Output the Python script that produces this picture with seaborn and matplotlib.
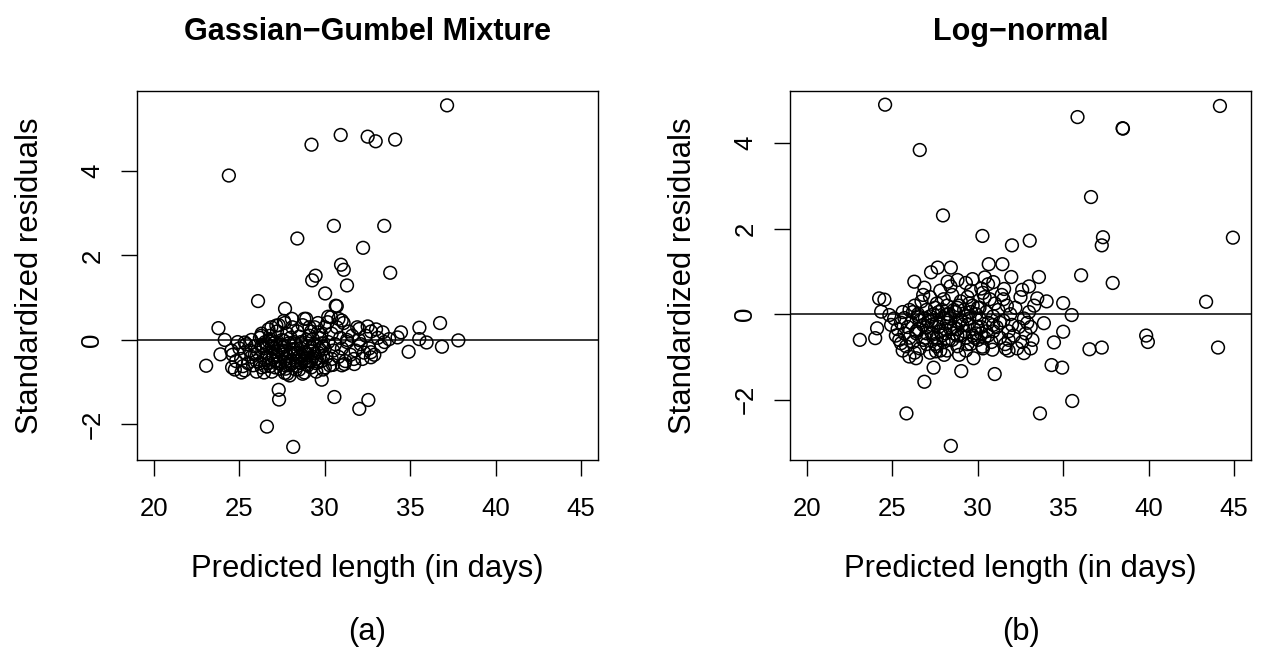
import matplotlib
matplotlib.use("Agg")
import matplotlib.pyplot as plt
import seaborn as sns
import pandas as pd

# ---------------- Panel (a): Gassian-Gumbel Mixture ----------------
a_out_x = [37.16, 30.93, 32.51, 32.98, 34.12, 29.22, 24.38, 30.53, 33.48, 28.39,
           32.24, 30.95, 31.11, 33.83, 29.46, 29.26, 31.30, 30.02, 26.09, 30.64,
           30.70, 27.67, 36.75, 35.54, 23.77, 37.82, 24.14, 23.05, 23.89, 29.82,
           27.30, 27.32, 30.56, 32.55, 32.02, 26.61, 28.15, 36.86, 35.96, 34.91,
           34.46, 35.53, 33.39, 32.51, 32.02, 34.26, 33.77, 32.70, 32.70, 31.73,
           31.15, 30.47, 28.81, 27.94, 27.65, 26.44, 25.12, 24.73, 24.57, 24.53,
           25.31, 26.28, 26.87, 27.16, 27.65, 28.07, 28.91, 29.10, 30.17, 30.37,
           30.99, 29.60]
a_out_y = [5.55, 4.85, 4.81, 4.70, 4.74, 4.62, 3.89, 2.70, 2.70, 2.40,
           2.18, 1.78, 1.66, 1.59, 1.52, 1.41, 1.29, 1.10, 0.92, 0.81,
           0.80, 0.74, 0.40, 0.29, 0.28, -0.01, 0.00, -0.61, -0.34, -0.94,
           -1.18, -1.41, -1.35, -1.42, -1.63, -2.05, -2.53, -0.16, -0.06, -0.28,
           0.18, 0.02, 0.18, 0.32, 0.26, 0.06, 0.02, -0.29, -0.41, -0.57,
           -0.57, -0.59, -0.77, -0.84, -0.78, -0.77, -0.77, -0.70, -0.65, -0.25,
           -0.06, 0.10, 0.30, 0.34, 0.40, 0.50, 0.50, 0.30, 0.42, 0.54,
           0.46, 0.18]

a_core_x = [24.6, 24.8, 25.0, 25.1, 25.2, 25.3, 25.4, 25.5, 24.9, 25.3,
            25.6, 25.7, 25.8, 25.9, 26.0, 26.1, 26.2, 26.3, 26.4, 26.5,
            25.7, 26.0, 26.3, 26.5, 25.9,
            26.6, 26.7, 26.8, 26.9, 27.0, 27.1, 27.2, 27.3, 27.4, 27.5,
            26.7, 26.9, 27.1, 27.3, 27.5, 27.0, 26.6,
            27.6, 27.7, 27.8, 27.9, 28.0, 28.1, 28.2, 28.3, 28.4, 28.5,
            27.6, 27.8, 28.0, 28.2, 28.4, 28.5, 27.7, 28.1, 28.3,
            28.6, 28.7, 28.8, 28.9, 29.0, 29.1, 29.2, 29.3, 29.4, 29.5,
            28.6, 28.8, 29.0, 29.2, 29.4, 28.7, 29.1, 28.9,
            29.6, 29.7, 29.8, 29.9, 30.0, 30.1, 30.2, 30.3, 30.4, 30.5,
            29.6, 29.9, 30.2, 30.4, 30.0,
            30.6, 30.7, 30.8, 30.9, 31.0, 31.1, 31.2, 31.3, 31.4, 31.5,
            30.8, 31.0, 31.3,
            31.6, 31.8, 31.9, 32.1, 32.2, 32.4, 32.6, 32.7, 32.9, 33.1,
            33.3, 32.0, 32.3, 31.7, 33.0, 33.5]
a_core_y = [-0.35, -0.50, -0.20, -0.45, -0.62, -0.30, -0.10, -0.55, -0.05, -0.72,
            -0.25, -0.40, -0.60, -0.15, -0.50, -0.30, 0.05, -0.65, -0.20, -0.45,
            0.00, -0.75, 0.15, -0.05, -0.35,
            -0.30, -0.55, 0.10, -0.15, -0.40, -0.65, 0.20, -0.25, -0.50, 0.00,
            0.25, -0.75, -0.05, 0.35, -0.35, -0.20, -0.10,
            -0.15, -0.45, 0.15, -0.60, -0.30, 0.30, -0.05, -0.50, -0.20, -0.70,
            0.45, -0.80, 0.05, -0.35, 0.20, -0.40, -0.25, -0.55, -0.10,
            -0.20, 0.35, -0.45, 0.00, -0.60, -0.25, 0.20, -0.40, -0.10, -0.75,
            -0.55, 0.50, -0.35, -0.50, 0.30, -0.80, 0.10, -0.30,
            -0.30, 0.05, -0.50, -0.15, 0.30, -0.40, -0.05, -0.60, 0.15, -0.25,
            0.40, -0.70, 0.55, -0.45, -0.20,
            -0.10, 0.30, -0.40, 0.05, -0.20, 0.40, -0.50, -0.05, 0.20, -0.35,
            0.50, -0.60, 0.00,
            0.10, -0.25, 0.30, -0.10, -0.45, 0.10, -0.20, 0.20, -0.35, 0.05,
            -0.15, 0.00, -0.30, -0.45, 0.25, -0.05]

a_dense_x = [26.2, 26.4, 26.6, 26.8, 27.0, 27.2, 27.4, 27.6, 27.8, 28.0,
             28.2, 28.4, 28.6, 28.8, 29.0, 29.2, 29.4, 29.6, 29.8, 30.0,
             26.3, 26.5, 26.7, 26.9, 27.1, 27.3, 27.5, 27.7, 27.9, 28.1,
             28.3, 28.5, 28.7, 28.9, 29.1, 29.3, 29.5, 29.7, 29.9,
             26.8, 27.4, 28.0, 28.6, 29.2, 29.8, 27.1, 27.7, 28.3, 28.9, 29.5]
a_dense_y = [-0.55, -0.15, -0.42, -0.62, -0.08, -0.35, -0.68, -0.02, -0.38, -0.58,
             -0.22, -0.62, -0.05, -0.28, -0.15, -0.65, -0.32, -0.52, 0.12, -0.65,
             -0.12, -0.62, -0.02, -0.45, -0.28, -0.55, -0.18, -0.60, -0.08, -0.22,
             -0.70, 0.08, -0.38, -0.58, -0.48, 0.02, -0.45, -0.22, -0.38,
             0.02, -0.12, -0.48, -0.10, -0.18, -0.08, -0.50, -0.68, -0.30, -0.50, -0.55]

# ---------------- Panel (b): Log-normal ----------------
b_out_x = [24.57, 44.18, 35.84, 38.48, 38.50, 26.60, 36.63, 27.96, 30.27, 33.04,
           32.00, 37.33, 37.26, 44.94, 36.05, 37.90, 43.37, 39.86, 39.96, 44.07,
           36.54, 37.26, 35.53, 33.64, 25.82, 28.42, 23.09, 23.99, 24.10, 24.22,
           24.53, 24.34, 24.82, 24.92, 26.87, 27.41, 29.03, 29.75, 30.99, 34.32,
           34.94, 34.46, 35.00, 35.50, 35.00, 33.87, 33.58, 33.00, 32.60, 31.96,
           31.44, 30.64, 29.69, 28.42, 27.65, 27.26, 26.28, 26.87, 28.23, 28.81,
           29.30, 30.41, 30.91, 31.54, 33.48, 34.03, 33.10, 32.70, 31.63, 30.86,
           30.27, 28.03, 27.55, 26.38, 25.99, 25.50, 25.70]
b_out_y = [4.90, 4.87, 4.61, 4.35, 4.34, 3.84, 2.74, 2.31, 1.83, 1.72,
           1.61, 1.80, 1.61, 1.79, 0.91, 0.73, 0.29, -0.50, -0.65, -0.78,
           -0.82, -0.78, -2.03, -2.32, -2.32, -3.08, -0.60, -0.56, -0.33, 0.37,
           0.34, 0.06, -0.02, -0.25, -1.58, -1.25, -1.33, -1.03, -1.40, -1.19,
           -1.25, -0.66, -0.41, -0.02, 0.26, -0.21, 0.87, 0.65, 0.57, 0.87,
           1.17, 1.17, 0.82, 1.09, 1.09, 0.98, 0.76, 0.62, 0.76, 0.80,
           0.73, 0.86, 0.75, 0.59, 0.37, 0.30, -0.80, -0.91, -0.80, -0.83,
           -0.76, -0.95, -0.87, -1.03, -0.99, -0.68, -0.09]

b_core_x = [25.1, 25.3, 25.4, 25.5, 25.6, 25.7, 25.8, 25.9, 26.0, 26.0, 25.2, 25.6,
            26.1, 26.2, 26.3, 26.4, 26.5, 26.6, 26.7, 26.8, 26.9, 27.0,
            26.2, 26.5, 26.8, 26.3, 27.0,
            27.1, 27.2, 27.3, 27.4, 27.5, 27.6, 27.7, 27.8, 27.9, 28.0,
            27.2, 27.5, 27.8, 28.0, 27.3, 27.6, 27.9,
            28.1, 28.2, 28.3, 28.4, 28.5, 28.6, 28.7, 28.8, 28.9, 29.0,
            28.2, 28.4, 28.6, 28.8, 29.0, 28.3, 28.9,
            29.1, 29.2, 29.3, 29.4, 29.5, 29.6, 29.7, 29.8, 29.9, 30.0,
            29.3, 29.6, 29.9, 29.5,
            30.1, 30.2, 30.3, 30.4, 30.5, 30.6, 30.7, 30.8, 30.9, 31.0,
            30.3, 30.6, 30.9, 30.2, 30.4,
            31.1, 31.2, 31.3, 31.4, 31.5, 31.6, 31.7, 31.8, 31.9, 32.0,
            31.5, 31.8,
            32.1, 32.2, 32.4, 32.5, 32.6, 32.7, 32.8, 33.0, 33.1, 33.2,
            33.3, 32.9]
b_core_y = [-0.10, -0.35, -0.60, -0.20, 0.05, -0.45, -0.75, -0.30, 0.10, -0.55, -0.50, -0.85,
            -0.20, -0.65, 0.20, -0.40, -0.05, -0.80, 0.30, -0.25, -0.55, 0.10,
            0.05, -0.35, 0.45, -0.90, -0.70,
            -0.15, 0.40, -0.45, 0.00, -0.70, 0.25, -0.30, 0.55, -0.50, -0.10,
            -0.90, 0.15, -0.85, 0.35, -0.25, -0.55, 0.10,
            -0.35, 0.20, -0.60, -0.10, 0.45, -0.45, 0.05, -0.75, -0.20, 0.30,
            -0.85, 0.65, -0.30, 0.15, -0.50, 0.00, -0.95,
            -0.25, 0.10, -0.55, 0.40, -0.10, -0.70, 0.20, -0.35, 0.00, -0.60,
            -0.85, 0.55, -0.45, 0.25,
            0.15, -0.30, 0.50, -0.55, 0.05, -0.20, 0.35, -0.65, -0.05, 0.25,
            -0.80, 0.70, -0.40, 0.60, 0.40,
            -0.30, 0.10, -0.55, 0.45, -0.15, -0.70, 0.20, -0.40, 0.00, -0.25,
            0.35, -0.85,
            -0.50, 0.15, -0.30, 0.40, -0.65, -0.10, -0.45, 0.05, -0.30, -0.60,
            0.20, -0.20]

b_dense_x = [26.4, 26.6, 26.8, 27.0, 27.2, 27.4, 27.6, 27.8, 28.0, 28.2,
             28.4, 28.6, 28.8, 29.0, 29.2, 29.4, 29.6, 29.8, 30.0, 30.2,
             26.5, 26.9, 27.3, 27.7, 28.1, 28.5, 28.9, 29.3, 29.7, 30.1,
             30.5, 30.9, 31.3, 27.0, 27.6, 28.2, 28.8, 29.4, 30.0, 30.6,
             31.8, 32.3]
b_dense_y = [-0.45, -0.15, -0.60, -0.30, -0.05, -0.55, -0.20, -0.40, -0.65, 0.00,
             -0.35, 0.10, -0.50, -0.15, -0.40, -0.25, 0.05, -0.55, -0.30, -0.45,
             0.00, -0.10, -0.15, 0.05, -0.45, -0.60, 0.20, -0.05, -0.50, -0.10,
             -0.40, -0.25, -0.20, -0.45, -0.75, -0.20, -0.35, -0.70, 0.15, -0.50,
             -0.60, -0.80]

titles = ["Gassian\u2212Gumbel Mixture", "Log\u2212normal"]
captions = ["(a)", "(b)"]
x_label = "Predicted length (in days)"
y_label = "Standardized residuals"
x_ticks = [20, 25, 30, 35, 40, 45]
y_ticks = [-2, 0, 2, 4]
x_lims = (19, 46)
y_lims = [(-2.84, 5.89), (-3.41, 5.22)]

sns.set_style("ticks")
plt.rcParams["font.family"] = ["Liberation Sans", "DejaVu Sans"]
plt.rcParams["text.color"] = "black"
plt.rcParams["axes.labelcolor"] = "black"

W, H = 1262, 650
fig = plt.figure(figsize=(W / 100, H / 100), dpi=100)
ax_a = fig.add_axes([137 / W, 1 - 460 / H, 461 / W, 369 / H])
ax_b = fig.add_axes([790 / W, 1 - 460 / H, 461 / W, 369 / H])

panels = [
    (ax_a, a_out_x + a_core_x + a_dense_x, a_out_y + a_core_y + a_dense_y),
    (ax_b, b_out_x + b_core_x + b_dense_x, b_out_y + b_core_y + b_dense_y),
]

for i, (ax, xs, ys) in enumerate(panels):
    df = pd.DataFrame({"pred": xs, "resid": ys})
    sns.scatterplot(data=df, x="pred", y="resid", ax=ax, s=84,
                    facecolor="none", edgecolor="black", linewidth=1.1)
    ax.axhline(0, color="black", lw=1.1, zorder=1)
    ax.set_xlim(*x_lims)
    ax.set_ylim(*y_lims[i])
    ax.set_xticks(x_ticks)
    ax.set_yticks(y_ticks)
    for sp in ax.spines.values():
        sp.set_visible(True)
        sp.set_color("black")
        sp.set_linewidth(1.0)
    ax.tick_params(direction="out", length=11.5, width=1.0, color="black",
                   labelsize=18.5, labelcolor="black")
    ax.tick_params(axis="x", pad=15)
    ax.tick_params(axis="y", pad=12)
    for lab in ax.get_yticklabels():
        lab.set_rotation(90)
        lab.set_va("center")
    ax.set_xlabel(x_label, fontsize=22.3, color="black")
    ax.set_ylabel(y_label, fontsize=22.3, color="black")
    ax.xaxis.set_label_coords(0.5, -0.2547)
    ax.yaxis.set_label_coords(-0.2004, 0.5)
    ax.set_title(titles[i], fontsize=22, fontweight="bold", pad=37, color="black")
    pos = ax.get_position()
    fig.text(pos.x0 + pos.width / 2, 1 - 632 / H, captions[i],
             ha="center", va="center", fontsize=22.3, color="black")

fig.savefig("out.png", dpi=100)
